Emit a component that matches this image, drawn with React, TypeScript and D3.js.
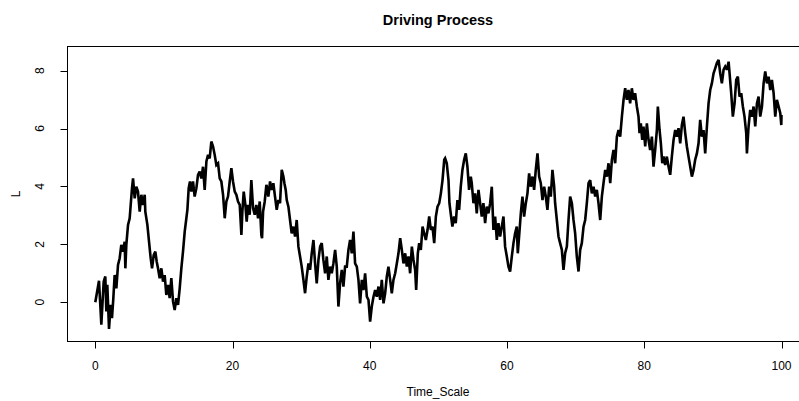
import React from "react";
import * as d3 from "d3";

const xTicks = [0, 20, 40, 60, 80, 100];
const yTicks = [0, 2, 4, 6, 8];
const titleText = "Driving Process";
const xLabel = "Time_Scale";
const yLabel = "L";

// Time_Scale values
const timeScale = [
  0.0, 0.54, 0.88, 1.22, 1.46, 1.61, 1.75, 2.0, 2.24, 2.43, 2.63, 2.82, 3.07, 3.31, 3.55, 3.79, 4.04, 4.28, 4.38, 4.52,
  4.77, 5.01, 5.16, 5.35, 5.5, 5.74, 5.98, 6.22, 6.47, 6.71, 6.95, 7.2, 7.29, 7.59, 7.83, 8.07, 8.27, 8.51, 8.75, 8.95,
  9.14, 9.38, 9.63, 9.87, 10.11, 10.35, 10.6, 10.84, 11.08, 11.33, 11.57, 11.81, 12.06, 12.3, 12.54, 12.78, 13.03, 13.27, 13.42, 13.61,
  13.8, 14.0, 14.24, 14.48, 14.73, 14.97, 15.21, 15.46, 15.7, 15.94, 16.19, 16.43, 16.67, 16.91, 17.16, 17.4, 17.64, 17.89, 18.13, 18.37,
  18.62, 18.76, 18.86, 19.1, 19.34, 19.59, 19.83, 20.07, 20.32, 20.56, 20.8, 21.05, 21.29, 21.43, 21.63, 21.87, 22.06, 22.26, 22.5, 22.74,
  22.99, 23.23, 23.47, 23.72, 23.96, 24.2, 24.3, 24.45, 24.69, 24.93,
  24.98, 25.22, 25.47, 25.71, 25.95, 26.19, 26.44, 26.68, 26.92, 27.17, 27.41, 27.56, 27.75, 27.9, 28.14, 28.38, 28.62, 28.87, 29.11, 29.35,
  29.6, 29.84, 30.08, 30.33, 30.57, 30.81, 31.06, 31.3, 31.54, 31.79, 32.03, 32.27, 32.52, 32.76, 33.0, 33.24, 33.49, 33.73, 33.97, 34.22,
  34.46, 34.7, 34.95, 35.19, 35.43, 35.67, 35.92, 36.16, 36.4, 36.65, 36.89, 37.13, 37.38, 37.62, 37.86, 38.11, 38.35, 38.59, 38.84, 39.08,
  39.32, 39.57, 39.81, 40.05, 40.29, 40.54, 40.78, 41.02, 41.27, 41.51, 41.75, 42.0, 42.24, 42.48, 42.72, 42.97, 43.21, 43.45, 43.7, 43.94,
  44.18, 44.43, 44.67, 44.91, 45.16, 45.4, 45.64, 45.88, 46.13, 46.37, 46.61, 46.76, 47.0, 47.2, 47.44, 47.69, 47.93, 48.17, 48.42, 48.66,
  48.9, 49.14, 49.39, 49.63, 49.87, 50.12, 50.36, 50.6, 50.85,
  50.98, 51.22, 51.47, 51.61, 51.85, 52.04, 52.29, 52.53, 52.77, 53.02, 53.26, 53.5, 53.75, 53.99, 54.23, 54.47, 54.72, 54.86, 55.11, 55.35,
  55.59, 55.84, 56.08, 56.32, 56.56, 56.81, 57.05, 57.29, 57.54, 57.78, 58.02, 58.27, 58.51, 58.75, 58.99, 59.24, 59.48, 59.72, 59.97, 60.21,
  60.45, 60.7, 60.94, 61.18, 61.42, 61.57, 61.76, 62.01, 62.25, 62.49, 62.74, 62.98, 63.22, 63.46, 63.71, 63.95, 64.19, 64.44, 64.68, 64.92,
  65.17, 65.41, 65.65, 65.89, 66.14, 66.38, 66.62, 66.87, 67.01, 67.26, 67.5, 67.74, 67.99, 68.23, 68.47, 68.72, 68.96, 69.2, 69.45, 69.69,
  69.93, 70.17, 70.42, 70.66, 70.9, 71.15, 71.39, 71.63, 71.88, 72.12, 72.36, 72.61, 72.85, 73.09, 73.33, 73.58, 73.82, 74.06, 74.31, 74.55,
  74.79, 75.04, 75.28, 75.52, 75.76, 76.01, 76.25, 76.49, 76.74, 76.98, 77.22,
  77.46, 77.7, 77.94, 78.19, 78.43, 78.67, 78.92, 79.16, 79.31, 79.5, 79.7, 79.89, 80.14, 80.38, 80.62, 80.86, 81.11, 81.35, 81.59, 81.84,
  81.98, 82.23, 82.42, 82.62, 82.81, 83.05, 83.29, 83.54, 83.78, 84.02, 84.27, 84.51, 84.75, 84.99, 85.24, 85.48, 85.72, 85.97, 86.21, 86.45,
  86.7, 86.94, 87.18, 87.42, 87.67, 87.91, 88.15, 88.4, 88.64, 88.88, 89.13, 89.37, 89.61, 89.85, 90.1, 90.34, 90.58, 90.83, 91.07, 91.31,
  91.56, 91.8, 92.04, 92.29, 92.43, 92.67, 92.91, 93.16, 93.4, 93.64, 93.89, 94.13, 94.37, 94.61, 94.86, 94.96, 95.2, 95.44, 95.69, 95.93,
  96.17, 96.42, 96.66, 96.9, 97.15, 97.39, 97.63, 97.88, 98.12, 98.36, 98.6, 98.85, 99.09, 99.33, 99.58, 99.82, 99.97, 100.0,
];

// L values
const drivingL = [
  0.0, 0.74, -0.78, 0.71, 0.89, -0.32, 0.6, -0.92, -0.09, -0.55, 0.14, 0.94, 0.48, 1.29, 1.52, 1.98, 1.75, 2.09, 1.17, 1.98,
  2.67, 2.9, 3.36, 3.94, 4.28, 3.59, 3.99, 3.82, 3.13, 3.71, 3.36, 3.71, 3.13, 2.67, 2.09, 1.52, 1.17, 1.63, 1.75, 1.4,
  1.17, 0.83, 1.17, 0.71, 0.94, 0.25, 0.6, 0.14, 0.83, 0.02, -0.27, 0.14, -0.09, 0.48, 1.17, 1.75, 2.44, 2.9, 3.19, 3.94,
  4.17, 3.82, 4.17, 3.65, 3.94, 4.4, 4.51, 4.28, 4.68, 3.88, 4.86, 5.09, 4.97, 5.55, 5.38, 5.09, 4.74, 4.8, 4.28, 4.17,
  3.71, 3.25, 2.9, 3.48, 3.65, 4.17, 4.63, 4.17, 3.82, 3.71, 3.48, 3.36, 2.32, 3.13, 3.82, 3.36, 2.78, 3.36, 3.02, 4.22,
  3.25, 3.02, 3.36, 2.9, 3.48, 2.32, 2.21, 3.13, 3.48, 4.05,
  4.01, 3.65, 4.17, 3.88, 4.11, 3.65, 3.19, 3.53, 3.42, 4.57, 4.34, 4.11, 3.88, 3.53, 3.3, 2.84, 2.38, 2.61, 2.27, 2.84,
  1.92, 1.58, 1.23, 0.77, 0.31, 0.88, 1.34, 1.12, 1.69, 2.15, 1.34, 0.65, 1.46, 1.92, 2.04, 1.46, 1.0, 1.58, 0.77, 1.23,
  1.0, 1.34, 1.81, 1.23, -0.15, 0.65, 1.12, 0.54, 1.23, 1.23, 1.81, 2.15, 1.69, 2.44, 1.34, 1.23, 0.77, -0.04, 0.77, 0.42,
  1.0, 0.19, 0.08, -0.67, -0.15, 0.19, 0.42, 0.19, 0.54, 0.08, 0.77, -0.04, 0.31, 0.88, 1.23, 0.77, 0.31, 0.77, 1.0, 1.34,
  1.69, 2.21, 1.81, 1.34, 1.69, 1.23, 1.58, 1.0, 1.92, 1.46, 1.12, 0.42, 1.69, 2.04, 1.81, 2.61, 2.38, 2.15, 2.5, 2.96,
  2.5, 2.61, 2.04, 2.96, 3.3, 3.42, 3.76, 4.22, 4.92,
  4.97, 4.8, 4.22, 3.42, 2.96, 2.61, 2.96, 2.73, 3.53, 3.19, 3.99, 4.57, 4.92, 5.14, 4.68, 3.88, 4.34, 4.11, 3.42, 3.76,
  3.07, 3.88, 3.42, 2.96, 3.42, 2.73, 3.3, 3.07, 3.42, 3.99, 2.5, 2.96, 2.15, 2.73, 2.27, 2.61, 2.96, 1.92, 1.58, 1.23,
  1.06, 1.58, 2.04, 2.38, 2.61, 1.69, 2.27, 3.07, 3.65, 2.96, 3.42, 3.76, 4.45, 3.99, 4.34, 3.88, 4.57, 5.14, 4.34, 4.11,
  3.53, 3.99, 3.65, 3.19, 3.99, 3.65, 4.57, 3.99, 3.42, 2.84, 2.27, 2.04, 1.81, 1.12, 1.69, 1.92, 2.84, 3.65, 3.42, 2.84,
  2.38, 1.58, 1.06, 1.81, 2.04, 2.61, 2.84, 3.42, 4.11, 4.22, 3.76, 3.99, 3.65, 3.88, 3.42, 2.84, 3.65, 4.11, 4.57, 4.34,
  4.8, 4.11, 4.92, 5.26, 4.8, 5.72, 5.95, 5.72, 6.41, 6.99, 7.39,
  6.99, 7.33, 6.87, 7.39, 6.99, 7.22, 6.76, 6.41, 5.84, 6.18, 5.61, 6.07, 5.38, 6.18, 5.61, 5.26, 5.72, 4.68, 5.26, 5.95,
  6.76, 5.95, 5.49, 4.8, 5.03, 4.74, 5.03, 4.68, 4.4, 5.03, 5.61, 5.95, 5.72, 6.01, 5.49, 6.12, 6.41, 5.84, 5.38, 5.03,
  4.68, 4.34, 4.57, 4.92, 5.14, 5.49, 6.3, 5.72, 5.95, 5.14, 6.07, 6.87, 7.33, 7.56, 7.91, 8.08, 8.26, 8.37, 7.91, 7.56,
  8.03, 8.14, 8.03, 8.31, 7.91, 7.22, 6.41, 6.87, 7.68, 7.79, 7.1, 7.22, 6.76, 6.41, 5.84, 5.14, 6.07, 6.64, 6.41, 6.76,
  6.07, 6.87, 7.1, 6.41, 6.76, 7.56, 7.97, 7.56, 7.79, 7.33, 7.68, 7.22, 6.41, 6.99, 6.76, 6.53, 6.12, 6.47,
];

const W = 799;
const H = 401;
const FONT = "'Liberation Sans', Arial, Helvetica, sans-serif";

export default function App() {
  const x = d3.scaleLinear().domain([-4, 104]).range([67.85, 808.95]);
  const y = d3.scaleLinear().domain([-1.34, 8.83]).range([341, 46.6]);
  const pts: [number, number][] = timeScale.map((t, i) => [t, drivingL[i]]);
  const line = d3
    .line<[number, number]>()
    .x((d) => x(d[0]))
    .y((d) => y(d[1]));
  const left = 67.5;
  const top = 46.5;
  const bottom = 341.5;
  return (
    <svg
      width={W}
      height={H}
      style={{ position: "absolute", left: 0, top: 0, background: "#fff" }}
      fontFamily={FONT}
    >
      <rect x={0} y={0} width={W} height={H} fill="#fff" />
      <text x={438} y={25} textAnchor="middle" fontWeight="bold" fontSize={14.5} fill="#000">
        {titleText}
      </text>
      <path d={line(pts) || ""} fill="none" stroke="#000" strokeWidth={2.6} strokeLinejoin="miter" strokeMiterlimit={2.5} />
      <rect x={left} y={top} width={809.5 - left} height={bottom - top} fill="none" stroke="#000" strokeWidth={1} />
      {xTicks.map((t) => (
        <g key={"xt" + t}>
          <line x1={Math.round(x(t)) + 0.5} x2={Math.round(x(t)) + 0.5} y1={bottom} y2={bottom + 7} stroke="#000" />
          <text x={x(t)} y={370} textAnchor="middle" fontSize={12} fill="#000">
            {t}
          </text>
        </g>
      ))}
      {yTicks.map((v) => (
        <g key={"yt" + v}>
          <line x1={left} x2={left - 7} y1={Math.round(y(v)) + 0.5} y2={Math.round(y(v)) + 0.5} stroke="#000" />
          <text
            transform={`translate(44, ${y(v)}) rotate(-90)`}
            textAnchor="middle"
            fontSize={12}
            fill="#000"
          >
            {v}
          </text>
        </g>
      ))}
      <text x={438} y={396} textAnchor="middle" fontSize={12} fill="#000">
        {xLabel}
      </text>
      <text transform={`translate(20, ${(top + bottom) / 2}) rotate(-90)`} textAnchor="middle" fontSize={12} fill="#000">
        {yLabel}
      </text>
    </svg>
  );
}
